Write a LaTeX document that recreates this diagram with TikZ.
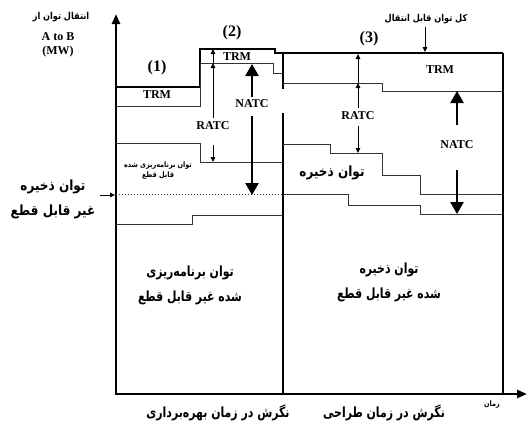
\documentclass[tikz,border=0pt]{standalone}
\usepackage{graphicx}
\usepackage{fontspec}
\setmainfont{Liberation Serif}
\newfontfamily\arabicfont[Script=Arabic]{DejaVu Sans}
\TeXXeTstate=1
\usetikzlibrary{arrows.meta}
\newcommand{\fatext}[1]{\scalebox{0.86}[1]{\beginR#1\endR}}
\newcommand{\fanarrow}[1]{\scalebox{0.78}[1]{\beginR#1\endR}}
\tikzstyle{lvl}=[draw=black!80,line width=1pt]
\tikzstyle{frame}=[draw=black,line width=1.6pt]
\tikzstyle{axisline}=[draw=black,line width=2.6pt,-{Triangle[length=10pt,width=8pt]}]
\tikzstyle{smallarr}=[draw=black,line width=0.9pt,-{Triangle[length=5pt,width=4.5pt]}]
\tikzstyle{bigarr}=[draw=black,line width=2.4pt,-{Triangle[length=12pt,width=13pt]}]
\tikzstyle{lat}=[font=\bfseries\fontsize{12}{14}\selectfont,inner sep=1pt]
\tikzstyle{num}=[font=\bfseries\fontsize{16}{18}\selectfont,inner sep=1pt]
\tikzstyle{fabig}=[font=\arabicfont\bfseries\fontsize{14}{25}\selectfont,align=center,inner sep=1pt]
\tikzstyle{fasmall}=[font=\arabicfont\bfseries\fontsize{9.5}{12}\selectfont,align=center,inner sep=1pt]
\tikzstyle{fatiny}=[font=\arabicfont\bfseries\fontsize{7.5}{10}\selectfont,align=center,inner sep=1pt]

\begin{document}
\begin{tikzpicture}[x=1pt,y=-1pt]
    \useasboundingbox (0,0) rectangle (527,421);

    % ---- axes ----
    \coordinate (orig) at (116,394);
    \coordinate (ytip) at (116,14);
    \coordinate (xtip) at (527,394);
    \draw[axisline] (orig) -- (ytip);
    \draw[axisline] ([xshift=-1.3pt]orig) -- (xtip);

    % ---- total transfer capability ----
    \draw[frame] (116,87) -- (200,87) -- (200,49) -- (275,49) -- (275,53);
    \draw[draw=black,line width=2.8pt] (274.2,53) -- (503,53);
    \draw[frame] (503,53) -- (503,394);
    % divider between the two views
    \draw[frame] (283,53) -- (283,89);
    \draw[frame] (283,113) -- (283,394);

    % ---- TRM ----
    \draw[lvl] (116,106) -- (200,106) -- (200,63) -- (273,63) -- (273,73) -- (283,73);
    \draw[lvl] (283,83) -- (382,83) -- (382,91) -- (503,91);

    % ---- operating view levels ----
    \draw[lvl] (116,143) -- (200,143) -- (200,162) -- (283,162);
    \draw[lvl,dotted] (116,194) -- (283,194);
    \draw[lvl] (116,224) -- (192,224) -- (192,215) -- (283,215);

    % ---- planning view levels ----
    \draw[lvl] (283,144) -- (330,144) -- (330,153) -- (382,153) -- (382,175)
      -- (420,175) -- (420,194) -- (503,194);
    \draw[lvl] (283,194) -- (348,194) -- (348,205) -- (420,205) -- (420,214) -- (503,214);

    % ---- labels ----
    \node[fasmall] (ttlA) at (61,17) {\fatext{انتقال توان از}};
    \node[lat] (ttlB) at (58,37) {A to B};
    \node[lat] (ttlC) at (58,52) {(MW)};
    \node[fasmall] (totL) at (426,19) {\fatext{کل توان قابل انتقال}};
    \node[fatiny] (timeL) at (492,405) {\fatext{زمان}};

    \node[num] (numA) at (157,68) {(1)};
    \node[num] (numB) at (232,33) {(2)};
    \node[num] (numC) at (369,39) {(3)};

    \node[lat] (trmA) at (157,95) {TRM};
    \node[lat] (trmB) at (237,57) {TRM};
    \node[lat] (trmC) at (440,70) {TRM};
    \node[lat] (ratcB) at (213,126) {RATC};
    \node[lat] (ratcC) at (358,116) {RATC};
    \node[lat] (natcB) at (252,104) {NATC};
    \node[lat] (natcC) at (457,145) {NATC};

    \node[fatiny] (schA) at (158,171) {\fatext{توان برنامه‌ریزی شده}\\\fatext{قابل قطع}};
    \node[fabig] (resL) at (53,199) {\fatext{توان ذخیره}\\\fatext{غیر قابل قطع}};
    \node[fabig] (resC) at (332,173) {\fatext{توان ذخیره}};
    \node[fabig] (firmA) at (190,285) {\fanarrow{توان برنامه‌ریزی}\\\fanarrow{شده غیر قابل قطع}};
    \node[fabig] (firmC) at (389,282) {\fanarrow{توان ذخیره}\\\fanarrow{شده غیر قابل قطع}};
    \node[fabig] (viewA) at (218,413) {\fanarrow{نگرش در زمان بهره‌برداری}};
    \node[fabig] (viewC) at (384,413) {\fanarrow{نگرش در زمان طراحی}};

    % ---- arrows: operating view ----
    \coordinate (rbTop) at (213,49);
    \coordinate (rbTrm) at (213,63);
    \coordinate (rbLow) at (213,145);
    \coordinate (rbSch) at (213,162);
    \draw[smallarr] ([yshift=3pt]ratcB.north) -- (rbTrm);
    \draw[smallarr] (rbTrm) -- (rbTop);
    \draw[smallarr] (rbLow) -- (rbSch);
    \coordinate (nbUp) at (252,97);
    \coordinate (nbTop) at (252,64);
    \coordinate (nbLow) at (252,116);
    \coordinate (nbDot) at (252,195);
    \draw[bigarr] (nbUp) -- (nbTop);
    \draw[bigarr] (nbLow) -- (nbDot);
    \coordinate (resTail) at (100,195);
    \coordinate (resTip) at (115,195);
    \draw[smallarr] (resTail) -- (resTip);

    % ---- arrows: planning view ----
    \coordinate (rcTop) at (358,54);
    \coordinate (rcTrm) at (358,83);
    \coordinate (rcLow) at (358,126);
    \coordinate (rcRes) at (358,153);
    \draw[smallarr] ([yshift=3pt]ratcC.north) -- (rcTrm);
    \draw[smallarr] (rcTrm) -- (rcTop);
    \draw[smallarr] (rcLow) -- (rcRes);
    \coordinate (ncUp) at (457,125);
    \coordinate (ncTrm) at (457,91);
    \coordinate (ncLow) at (457,170);
    \coordinate (ncRes) at (457,214);
    \draw[bigarr] (ncUp) -- (ncTrm);
    \draw[bigarr] (ncLow) -- (ncRes);
    \coordinate (totTip) at (425,52);
    \draw[smallarr] ([yshift=-2pt]totL.south -| totTip) -- (totTip);
\end{tikzpicture}
\end{document}
